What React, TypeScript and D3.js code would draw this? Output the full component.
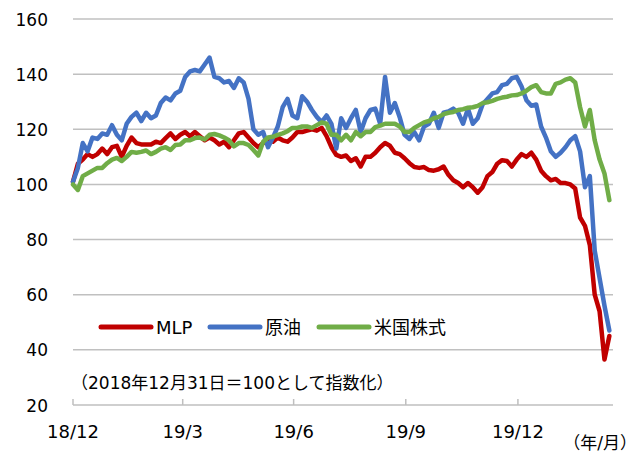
import React, { Component } from 'react';
import * as d3 from 'd3';

const WIDTH = 644;
const HEIGHT = 452;

// index values, one reading every 4 calendar days from 2018-12-31
const mlp = [
  101, 107.5, 109, 111, 110, 111, 113, 111, 113.5, 114,
  110, 114, 117, 115, 114.5, 114.5, 114.5, 115.5, 115, 116.8,
  118.5, 116.5, 118, 119, 117.5, 119, 117.5, 116, 117, 116,
  114.5, 115.5, 113.5, 116, 118.5, 119, 117, 115, 113.5, 115,
  116, 115.5, 117, 116, 115.5, 117, 119, 119, 119.5, 120,
  119.5, 120.5, 117.5, 113.5, 110.7, 110, 110.5, 108.5, 109.5, 106.5,
  110, 110, 111.5, 113.5, 115, 114, 111.5, 111, 109.5, 107.7,
  106.3, 106, 106.3, 105.2, 105, 105.5, 106.5, 103.5, 101.5, 100.5,
  99, 100.5, 99, 97, 99, 103, 104.5, 107.5, 108.8, 108.5,
  106.5, 109, 111, 110, 111.5, 109, 105, 103, 101.5, 102,
  100.5, 100.5, 100, 98.5, 88, 85, 78, 60, 54, 36.5,
  45
];

const crude = [
  101, 106, 115, 112, 117, 116.5, 118.5, 118, 121.5, 118,
  116, 122, 124.5, 126, 123, 126, 124, 125, 129.5, 131.5,
  130.5, 133, 134, 139, 141, 141.5, 141, 143.5, 146, 139,
  138.5, 137, 137.5, 135, 138.5, 137, 131, 120, 118, 119,
  113.5, 117, 121, 128, 131, 125, 124, 132, 130, 127,
  124.5, 122.6, 125, 122, 113, 124, 120.5, 124, 127, 119,
  124, 127, 127.5, 122, 139, 126, 129.5, 124.4, 118, 116.5,
  119, 116, 121, 122, 126, 120.5, 126, 126.5, 127.5, 126,
  122, 127.5, 122, 124, 129, 131, 133, 133.5, 136, 136.5,
  138.5, 139, 135.5, 130.5, 128.5, 129, 121, 117, 112, 110,
  111.5, 113.5, 116, 117.5, 112, 99, 103, 76, 66, 56,
  47
];

const usStocks = [
  100, 98, 103, 104, 105, 106, 106, 107.7, 109, 109.6,
  108.5, 110, 111.8, 111.5, 111.8, 112.3, 111, 111.8, 113, 113.5,
  112.5, 114.3, 114.5, 116, 116, 116.8, 117, 116.3, 118, 118.3,
  117.8, 117, 116, 113.8, 115, 115, 114.3, 112.5, 110.5, 115.5,
  117, 117.3, 118, 118.5, 119.3, 120.5, 120.5, 121, 121, 120.5,
  121.5, 122.5, 122, 118, 118, 116, 118, 116, 119, 117.5,
  119, 119, 120.8, 121.3, 122, 122, 122, 121, 119, 119,
  120.5, 121.5, 122.5, 123, 124, 124.5, 125.5, 126, 126.3, 127,
  127.3, 127.8, 128, 128.5, 129.5, 129.8, 130.3, 131, 131.5, 131.8,
  132.3, 132.4, 133, 134, 135.3, 136, 133.5, 133, 133, 136.5,
  137, 138, 138.5, 137, 128, 121, 127, 116, 109, 104,
  94.3
];

const seriesNames = ['MLP', '原油', '米国株式'];
const seriesColors = ['#C00000', '#4472C4', '#70AD47'];
const yTicks = [20, 40, 60, 80, 100, 120, 140, 160];
const xTickDates = ['2018-12-31', '2019-03-31', '2019-06-30', '2019-09-30', '2019-12-31'];
const xTickLabels = ['18/12', '19/3', '19/6', '19/9', '19/12'];

const startDate = new Date(2018, 11, 31);
const endDate = new Date(2020, 2, 18);
const font = '"DejaVu Sans", "Noto Sans CJK JP", sans-serif';

class App extends Component {
  svgNode: SVGSVGElement | null = null;

  componentDidMount() {
    this.drawChart();
  }

  drawChart() {
    const svg = d3.select(this.svgNode);
    svg.selectAll('*').remove();

    const x = d3.scaleTime().domain([startDate, endDate]).range([73, 613]);
    const y = d3.scaleLinear().domain([20, 160]).range([405, 19]);

    // grid
    svg.selectAll('.grid').data(yTicks.slice(1))
      .enter().append('line')
        .attr('class', 'grid')
        .attr('x1', 73).attr('x2', 613)
        .attr('y1', d => y(d)).attr('y2', d => y(d))
        .attr('stroke', '#C0C0C0')
        .attr('stroke-width', 1.5);

    // x axis, ticks point inward
    svg.append('line')
      .attr('x1', 73).attr('x2', 613)
      .attr('y1', y(20)).attr('y2', y(20))
      .attr('stroke', '#BFBFBF')
      .attr('stroke-width', 1.5);
    const parse = d3.timeParse('%Y-%m-%d');
    const tickDates = xTickDates.map(d => parse(d) as Date);
    svg.selectAll('.xtick').data(tickDates)
      .enter().append('line')
        .attr('class', 'xtick')
        .attr('x1', d => x(d)).attr('x2', d => x(d))
        .attr('y1', y(20)).attr('y2', y(20) - 6)
        .attr('stroke', '#BFBFBF')
        .attr('stroke-width', 1.5);
    svg.selectAll('.xlabel').data(tickDates)
      .enter().append('text')
        .attr('class', 'xlabel')
        .attr('x', d => x(d))
        .attr('y', 438)
        .attr('text-anchor', 'middle')
        .attr('font-size', '18px')
        .attr('font-family', font)
        .text((d, i) => xTickLabels[i]);

    svg.selectAll('.ylabel').data(yTicks)
      .enter().append('text')
        .attr('class', 'ylabel')
        .attr('x', 48)
        .attr('y', d => y(d) + 6.5)
        .attr('text-anchor', 'end')
        .attr('font-size', '17px')
        .attr('font-family', font)
        .text(d => d);

    // series
    const line = d3.line<number>()
      .x((d, i) => x(d3.timeDay.offset(startDate, i * 4)))
      .y(d => y(d));
    [mlp, crude, usStocks].forEach((values, k) => {
      svg.append('path')
        .datum(values)
        .attr('d', line)
        .attr('fill', 'none')
        .attr('stroke', seriesColors[k])
        .attr('stroke-width', 4.5)
        .attr('stroke-linejoin', 'round')
        .attr('stroke-linecap', 'round');
    });

    // legend
    const legendX = [101, 210, 319];
    const legend = svg.selectAll('.legend').data(seriesNames)
      .enter().append('g')
        .attr('class', 'legend')
        .attr('transform', (d, i) => 'translate(' + legendX[i] + ',327)');
    legend.append('line')
      .attr('x1', 0).attr('x2', 50)
      .attr('stroke', (d, i) => seriesColors[i])
      .attr('stroke-width', 5)
      .attr('stroke-linecap', 'round');
    legend.append('text')
      .attr('x', 55)
      .attr('y', 6.5)
      .attr('font-size', '18px')
      .attr('font-family', font)
      .text(d => d);

    svg.append('text')
      .attr('x', 71)
      .attr('y', 389)
      .attr('font-size', '17px')
      .attr('font-family', font)
      .text('（2018年12月31日＝100として指数化）');

    svg.append('text')
      .attr('x', 637)
      .attr('y', 449)
      .attr('text-anchor', 'end')
      .attr('font-size', '17px')
      .attr('font-family', font)
      .text('（年/月）');
  }

  render() {
    return (
      <svg ref={node => { this.svgNode = node; }}
           width={WIDTH} height={HEIGHT}
           style={{ position: 'absolute', left: 0, top: 0, background: '#fff' }}>
      </svg>
    );
  }
}

export default App;
